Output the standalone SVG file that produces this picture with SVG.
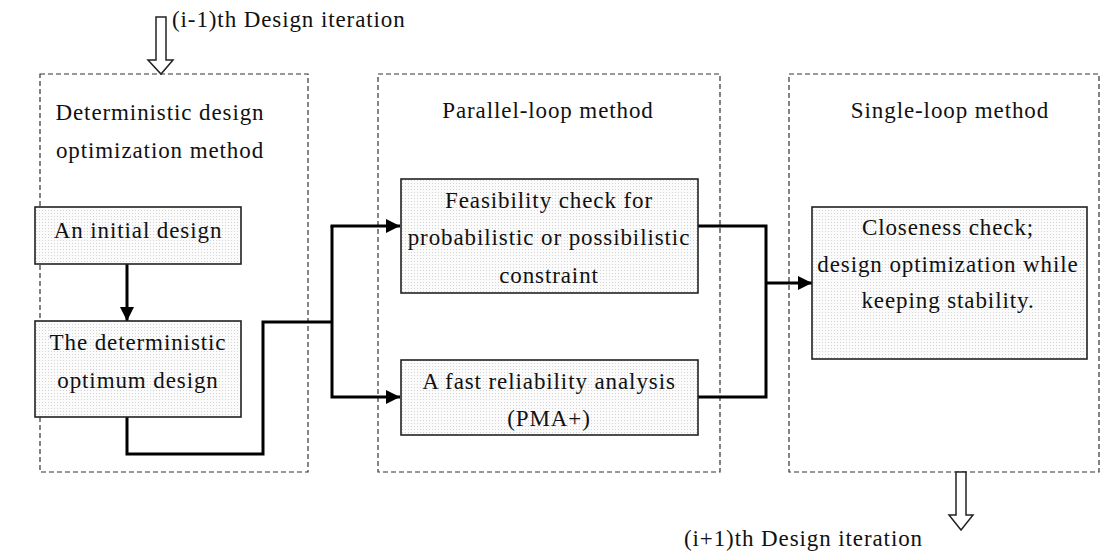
<svg xmlns="http://www.w3.org/2000/svg" width="1102" height="554" viewBox="0 0 1102 554">
<style>
.t{font-family:"Liberation Serif","Times New Roman",serif;font-size:23px;letter-spacing:0.9px;fill:#111;text-anchor:middle}
.c{fill:none;stroke:#333;stroke-width:1.2;stroke-dasharray:5,3}
.b{fill:url(#dots);stroke:#222;stroke-width:1.6}
.l{fill:none;stroke:#000;stroke-width:3}
.h{fill:#fff;stroke:#222;stroke-width:1.5}
</style>
<defs>
<pattern id="dots" width="3" height="3" patternUnits="userSpaceOnUse">
<rect width="3" height="3" fill="#fbfbfb"/>
<rect width="1" height="1" fill="#d4d4d4"/>
</pattern>
<marker id="ar" viewBox="0 0 14 14" refX="14" refY="7" markerWidth="14" markerHeight="14" markerUnits="userSpaceOnUse" orient="auto">
<path d="M0,0 L14,7 L0,14 Z" fill="#000"/>
</marker>
</defs>
<g id="containers">
<rect class="c" x="40" y="74" width="268" height="398"/>
<rect class="c" x="378" y="74" width="342" height="398"/>
<rect class="c" x="789" y="74" width="310" height="398"/>
<text class="t" x="160" y="120">Deterministic design</text>
<text class="t" x="160" y="158">optimization method</text>
<text class="t" x="548" y="118">Parallel-loop method</text>
<text class="t" x="950" y="118">Single-loop method</text>
</g>
<g id="iter-in">
<path class="h" d="M156,17 L166,17 L166,60 L173,60 L161,74 L148,60 L156,60 Z"/>
<text class="t" x="172" y="27" style="text-anchor:start">(i-1)th Design iteration</text>
</g>
<g id="iter-out">
<path class="h" d="M956,472 L966,472 L966,515 L973,515 L961,530 L949,515 L956,515 Z"/>
<text class="t" x="684" y="546" style="text-anchor:start">(i+1)th Design iteration</text>
</g>
<g id="connectors">
<line class="l" x1="127" y1="264" x2="127" y2="321" marker-end="url(#ar)"/>
<polyline class="l" points="127,417 127,454 263,454 263,322 332,322"/>
<polyline class="l" points="332,226 332,397 400,397" marker-end="url(#ar)"/>
<line class="l" x1="330.5" y1="226" x2="400" y2="226" marker-end="url(#ar)"/>
<polyline class="l" points="698,226 766,226 766,397 698,397"/>
<line class="l" x1="766" y1="283" x2="812" y2="283" marker-end="url(#ar)"/>
</g>
<g id="n-initial">
<rect class="b" x="35" y="207" width="206" height="57"/>
<text class="t" x="138" y="238">An initial design</text>
</g>
<g id="n-optimum">
<rect class="b" x="35" y="321" width="206" height="96"/>
<text class="t" x="138" y="350">The deterministic</text>
<text class="t" x="138" y="388">optimum design</text>
</g>
<g id="n-feasibility">
<rect class="b" x="401" y="179" width="297" height="114"/>
<text class="t" x="549" y="208">Feasibility check for</text>
<text class="t" x="549" y="245">probabilistic or possibilistic</text>
<text class="t" x="549" y="283">constraint</text>
</g>
<g id="n-reliability">
<rect class="b" x="401" y="360" width="297" height="75"/>
<text class="t" x="549" y="389">A fast reliability analysis</text>
<text class="t" x="549" y="426">(PMA+)</text>
</g>
<g id="n-closeness">
<rect class="b" x="812" y="207" width="275" height="152"/>
<text class="t" x="948" y="235">Closeness check;</text>
<text class="t" x="948" y="272">design optimization while</text>
<text class="t" x="948" y="308">keeping stability.</text>
</g>
</svg>
